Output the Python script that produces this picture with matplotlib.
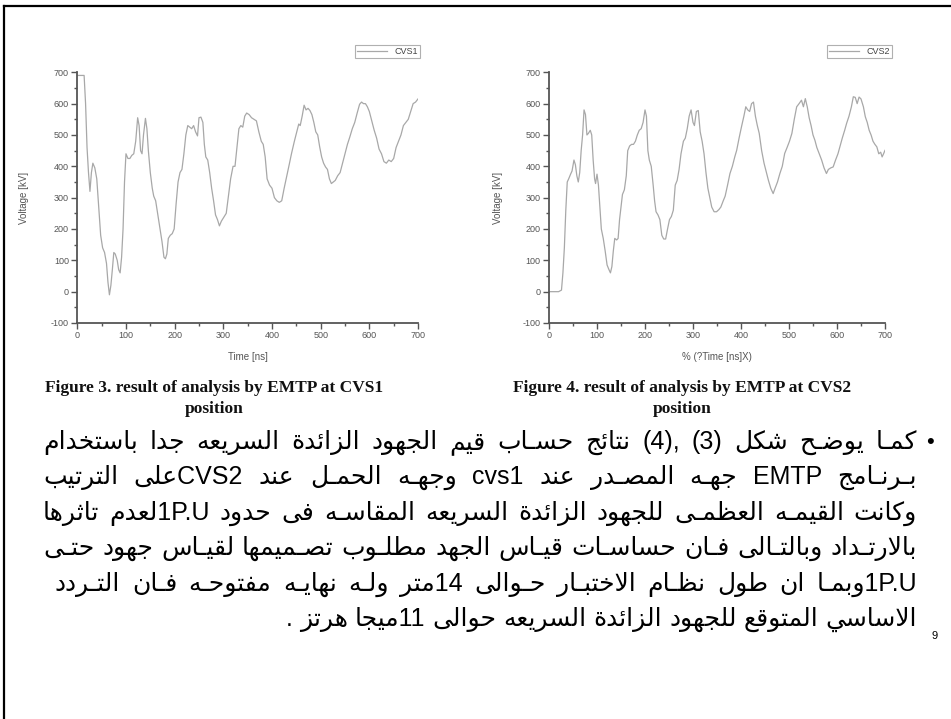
import matplotlib
matplotlib.use("Agg")
import matplotlib.pyplot as plt
from matplotlib.ticker import MultipleLocator

plt.rcParams['axes.unicode_minus'] = False

# CVS1 trace
t1 = [0, 14, 17, 20, 23, 26, 29, 32, 36, 40, 44, 48, 52, 56, 60, 63, 66, 69, 72, 75,
      78, 82, 85, 88, 91, 94, 97, 100, 104, 108, 112, 116, 120, 124, 127, 130, 133, 136, 140, 143,
      146, 150, 154, 157, 161, 165, 170, 174, 178, 181, 184, 187, 191, 195, 199, 203, 207, 211, 215, 219,
      223, 227, 231, 235, 239, 243, 247, 250, 254, 258, 261, 264, 268, 272, 276, 280, 284, 288, 292, 296,
      300, 306, 310, 315, 320, 324, 328, 332, 336, 340, 344, 348, 353, 358, 363, 368, 373, 378, 382, 386,
      390, 395, 400, 405, 410, 415, 420, 425, 430, 436, 440, 446, 450, 455, 458, 462, 466, 470, 474, 478,
      482, 486, 490, 494, 498, 502, 506, 510, 514, 518, 522, 526, 530, 535, 540, 545, 550, 555, 560, 565,
      570, 575, 580, 584, 588, 592, 596, 600, 605, 610, 615, 620, 625, 630, 635, 640, 645, 650, 655, 660,
      665, 670, 675, 680, 685, 690, 695, 700]
v1 = [690, 690, 600, 460, 380, 320, 380, 410, 395, 360, 270, 180, 140, 125, 90, 30, -10, 20, 70, 125,
      120, 100, 70, 60, 110, 200, 350, 440, 425, 425, 435, 440, 480, 555, 530, 450, 440, 500, 553, 520,
      450, 380, 330, 305, 290, 250, 200, 160, 110, 105, 120, 170, 180, 185, 200, 280, 350, 380, 390, 440,
      500, 530, 525, 520, 530, 510, 497, 555, 557, 540, 470, 430, 420, 380, 330, 290, 245, 230, 210, 225,
      235, 250, 300, 360, 400, 400, 460, 520, 530, 525, 560, 570, 565, 555, 550, 545, 510, 480, 470, 430,
      360, 340, 330, 300, 290, 285, 290, 330, 366, 410, 440, 480, 505, 535, 530, 560, 595, 580, 585, 578,
      565, 540, 510, 500, 462, 430, 410, 398, 390, 360, 345, 350, 355, 370, 380, 410, 440, 470, 494, 520,
      540, 570, 598, 605, 600, 600, 590, 575, 545, 515, 490, 455, 440, 415, 410, 420, 415, 425, 460, 480,
      500, 530, 540, 550, 575, 600, 605, 615]

# CVS2 trace
t2 = [0, 10, 20, 26, 29, 32, 35, 38, 41, 45, 48, 52, 55, 58, 61, 64, 67, 70, 73, 76,
      79, 82, 86, 89, 92, 95, 97, 100, 103, 106, 109, 113, 117, 121, 125, 128, 131, 134, 137, 141,
      144, 147, 150, 153, 157, 161, 164, 168, 172, 176, 180, 184, 188, 192, 196, 200, 203, 206, 209, 213,
      217, 220, 223, 227, 231, 235, 239, 243, 247, 251, 255, 259, 263, 267, 271, 275, 280, 284, 288, 292,
      296, 300, 303, 307, 311, 315, 319, 323, 327, 331, 335, 339, 344, 349, 354, 358, 363, 367, 372, 377,
      382, 387, 391, 396, 401, 406, 410, 414, 418, 422, 426, 430, 434, 438, 443, 448, 453, 457, 462, 467,
      471, 476, 481, 486, 491, 496, 501, 506, 511, 516, 521, 526, 530, 534, 538, 542, 546, 550, 554, 558,
      563, 568, 573, 578, 582, 587, 592, 597, 602, 606, 611, 616, 620, 625, 630, 634, 638, 642, 646, 650,
      655, 659, 663, 667, 671, 675, 679, 683, 687, 691, 694, 697, 700]
v2 = [0, 0, 0, 5, 60, 140, 260, 350, 360, 375, 385, 420, 405, 370, 350, 380, 450, 500, 580, 565,
      500, 505, 515, 500, 420, 360, 345, 375, 340, 270, 200, 170, 130, 85, 70, 60, 80, 130, 170, 165,
      170, 230, 270, 310, 325, 370, 450, 465, 470, 470, 480, 500, 515, 520, 540, 580, 560, 450, 420, 400,
      340, 290, 255, 245, 230, 180, 168, 168, 200, 230, 240, 260, 340, 355, 390, 440, 480, 490, 520, 560,
      580, 540, 530, 575, 578, 510, 480, 440, 380, 330, 300, 270, 255, 255, 262, 270, 290, 305, 340, 377,
      400, 430, 451, 490, 526, 560, 590, 580, 575, 600, 605, 560, 530, 505, 450, 410, 380, 356, 330, 313,
      330, 350, 377, 400, 441, 460, 480, 505, 550, 590, 600, 611, 590, 616, 590, 555, 530, 500, 483, 460,
      440, 420, 395, 377, 390, 395, 398, 420, 440, 462, 490, 515, 537, 560, 590, 622, 620, 600, 621, 615,
      590, 558, 540, 515, 500, 480, 470, 462, 440, 445, 430, 440, 451]

series_names = ["CVS1", "CVS2"]
x_labels = ["Time [ns]", "% (?Time [ns]X)"]
y_label = "Voltage [kV]"
captions = [["Figure 3. result of analysis by EMTP at CVS1", "position"],
            ["Figure 4. result of analysis by EMTP at CVS2", "position"]]

arabic_lines = [
    "كمـا يوضـح شكل (3) ,(4) نتائج حسـاب قيم الجهود الزائدة السريعه جدا باستخدام",
    "بـرنـامج EMTP  جهـه المصـدر عند cvs1  وجهـه الحمـل عند  CVS2على الترتيب",
    "وكانت القيمـه العظمـى للجهود الزائدة السريعه المقاسـه فى حدود  1P.Uلعدم تاثرها",
    "بالارتـداد وبالتـالى فـان حساسـات قيـاس الجهد مطلـوب تصـميمها لقيـاس جهود حتـى",
    "1P.Uوبمـا ان طول نظـام الاختبـار حـوالى  14متر ولـه نهايـه مفتوحـه فـان التـردد",
    "الاساسي  المتوقع للجهود الزائدة السريعه حوالى 11ميجا هرتز .",
]
page_number = "9"

# ---- minimal Arabic shaping + right-to-left ordering (matplotlib has none) ----
letters = [('ء', 1), ('آ', 2), ('أ', 2), ('ؤ', 2), ('إ', 2), ('ئ', 4), ('ا', 2), ('ب', 4),
           ('ة', 2), ('ت', 4), ('ث', 4), ('ج', 4), ('ح', 4), ('خ', 4), ('د', 2), ('ذ', 2),
           ('ر', 2), ('ز', 2), ('س', 4), ('ش', 4), ('ص', 4), ('ض', 4), ('ط', 4), ('ظ', 4),
           ('ع', 4), ('غ', 4), ('ف', 4), ('ق', 4), ('ك', 4), ('ل', 4), ('م', 4), ('ن', 4),
           ('ه', 4), ('و', 2), ('ى', 2), ('ي', 4)]
FORMS = {}
code = 0xFE80
for ch, n in letters:
    FORMS[ch] = [chr(code + k) for k in range(n)]
    code += n
LAM_ALEF = {'آ': 0xFEF5, 'أ': 0xFEF7, 'إ': 0xFEF9, 'ا': 0xFEFB}
TATWEEL = 'ـ'


def joins_next(ch):
    return ch == TATWEEL or len(FORMS.get(ch, [])) == 4


def is_letter(ch):
    return ch == TATWEEL or ch in FORMS


def shape(s):
    out, prev, i = [], None, 0
    while i < len(s):
        ch = s[i]
        nxt = s[i + 1] if i + 1 < len(s) else ''
        if ch == 'ل' and nxt in LAM_ALEF:
            out.append(chr(LAM_ALEF[nxt] + (1 if prev and joins_next(prev) else 0)))
            prev = nxt
            i += 2
            continue
        if ch in FORMS:
            forms = FORMS[ch]
            p = bool(prev) and joins_next(prev)
            n = len(forms) == 4 and is_letter(nxt)
            if len(forms) == 1:
                out.append(forms[0])
            elif len(forms) == 2:
                out.append(forms[1] if p else forms[0])
            else:
                out.append(forms[int(p) + 2 * int(n)])
        else:
            out.append(ch)
        prev = ch if is_letter(ch) else None
        i += 1
    return ''.join(out)


def visual(s):
    s = shape(s)
    kinds = []
    last_strong = 'R'
    for ch in s:
        o = ord(ch)
        if 0x600 <= o <= 0x6FF or 0xFE70 <= o <= 0xFEFF:
            k = 'R'
            last_strong = 'R'
        elif ch.isascii() and ch.isalpha():
            k = 'L'
            last_strong = 'L'
        elif ch.isascii() and ch.isdigit():
            k = 'L' if last_strong == 'L' else 'EN'
        else:
            k = 'N'
        kinds.append(k)
    res = kinds[:]
    for i, k in enumerate(kinds):
        if k == 'N':
            left = next((kinds[j] for j in range(i - 1, -1, -1) if kinds[j] != 'N'), 'R')
            right = next((kinds[j] for j in range(i + 1, len(kinds)) if kinds[j] != 'N'), 'R')
            left = 'R' if left == 'EN' else left
            right = 'R' if right == 'EN' else right
            res[i] = 'L' if left == right == 'L' else 'R'
    level = [2 if r in ('L', 'EN') else 1 for r in res]
    mirror = {'(': ')', ')': '(', '[': ']', ']': '['}
    chars = [mirror.get(c, c) if lv == 1 else c for c, lv in zip(s, level)]
    chars, level = chars[::-1], level[::-1]
    out, i = [], 0
    while i < len(chars):
        if level[i] == 2:
            j = i
            while j < len(chars) and level[j] == 2:
                j += 1
            out.extend(chars[i:j][::-1])
            i = j
        else:
            out.append(chars[i])
            i += 1
    return ''.join(out)


W, H = 951, 719
fig = plt.figure(figsize=(W / 100, H / 100), dpi=100)
fig.patch.set_facecolor('white')

gray_line = '#a8a8a8'
axis_col = '#555555'
tick_font = ['Liberation Sans', 'DejaVu Sans']

ax_boxes = [(77.3, 418.0), (549.0, 885.0)]
legend_right = [1.006, 1.021]
label_x = [-0.142, -0.137]
for k, (ts, vs) in enumerate([(t1, v1), (t2, v2)]):
    x0, x1 = ax_boxes[k]
    ax = fig.add_axes([x0 / W, 1 - 323 / H, (x1 - x0) / W, (323 - 72.3) / H])
    ax.plot(ts, vs, color=gray_line, lw=0.9, label=series_names[k])
    ax.set_xlim(0, 700)
    ax.set_ylim(-100, 700)
    ax.spines['top'].set_visible(False)
    ax.spines['right'].set_visible(False)
    for s in ('left', 'bottom'):
        ax.spines[s].set_color(axis_col)
        ax.spines[s].set_linewidth(1.3)
    ax.xaxis.set_major_locator(MultipleLocator(100))
    ax.xaxis.set_minor_locator(MultipleLocator(50))
    ax.yaxis.set_major_locator(MultipleLocator(100))
    ax.yaxis.set_minor_locator(MultipleLocator(50))
    ax.tick_params(which='major', length=4, width=1, color=axis_col, labelsize=6.5,
                   labelcolor='#555555', pad=2)
    ax.tick_params(which='minor', length=2.5, width=1, color=axis_col)
    for lab in ax.get_xticklabels() + ax.get_yticklabels():
        lab.set_family(tick_font)
    ax.set_xlabel(x_labels[k], fontsize=7, color='#555555', family=tick_font, va='top')
    ax.xaxis.set_label_coords(0.5, -0.116)
    ax.set_ylabel(y_label, fontsize=7, color='#555555', family=tick_font)
    ax.yaxis.set_label_coords(label_x[k], 0.5)
    leg = ax.legend(loc='upper right', bbox_to_anchor=(legend_right[k], 1.109),
                    borderaxespad=0, fancybox=False, framealpha=1, handlelength=3.3,
                    borderpad=0.25, prop={'family': tick_font, 'size': 6.5})
    leg.get_frame().set_edgecolor('#b0b0b0')
    leg.get_frame().set_linewidth(0.8)
    for txt in leg.get_texts():
        txt.set_color('#444444')

# overlay in pixel coordinates for the slide text
ov = fig.add_axes([0, 0, 1, 1])
ov.set_xlim(0, W)
ov.set_ylim(H, 0)
ov.axis('off')
ov.patch.set_alpha(0)

# slide frame
ov.plot([4, W], [6, 6], color='black', lw=1.6)
ov.plot([4, 4], [6, H], color='black', lw=1.6)

cap_x = [214, 682]
for k in range(2):
    ov.text(cap_x[k], 388, captions[k][0], ha='center', va='center', fontsize=12.5,
            fontweight='bold', family='Liberation Serif', color='#111111')
    ov.text(cap_x[k], 409, captions[k][1], ha='center', va='center', fontsize=12.5,
            fontweight='bold', family='Liberation Serif', color='#111111')

ar_font = ['Liberation Sans', 'DejaVu Sans']
renderer = fig.canvas.get_renderer()


def width_of(s, fs):
    t = ov.text(0, 0, s, fontsize=fs, family=ar_font)
    w = t.get_window_extent(renderer).width
    t.remove()
    return w


vis_lines = [visual(s) for s in arabic_lines]
right_edge = 917
left_edges = [43, 43, 43, 43, 55, None]
baselines = [449, 484, 520, 555, 591, 626]
fs = 18.0
tokens = [[w for w in v.split(' ') if w] for v in vis_lines]
widest = max(sum(width_of(w, fs) for w in tk) + 5 * (len(tk) - 1) for tk in tokens[:5])
if widest > right_edge - 43:
    fs = fs * (right_edge - 43) / widest

for i, tk in enumerate(tokens):
    widths = [width_of(w, fs) for w in tk]
    if left_edges[i] is not None:
        gap = (right_edge - left_edges[i] - sum(widths)) / (len(tk) - 1)
        x = left_edges[i]
    else:
        gap = width_of('a a', fs) - width_of('aa', fs)
        x = right_edge - sum(widths) - gap * (len(tk) - 1)
    for w, wd in zip(tk, widths):
        ov.text(x, baselines[i], w, fontsize=fs, family=ar_font, va='baseline', ha='left',
                color='black')
        x += wd + gap

ov.text(930, baselines[0] - 7, '•', fontsize=16, family=ar_font, ha='center', va='center')
ov.text(935, 636, page_number, fontsize=8, family=ar_font, ha='center', va='center')

fig.savefig('out.png', dpi=100)
